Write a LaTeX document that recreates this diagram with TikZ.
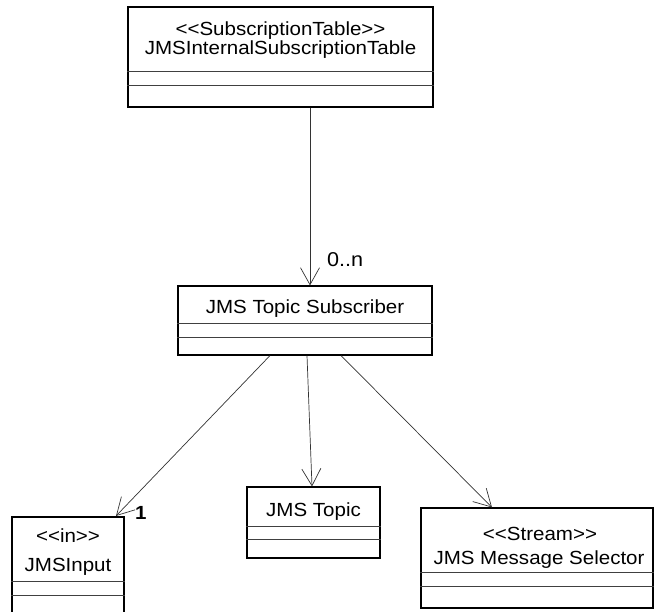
\documentclass[tikz,border=0pt]{standalone}
\usepackage{fontspec}
\setmainfont{Liberation Sans}[FakeStretch=1.08]
\usetikzlibrary{arrows.meta}
\begin{document}
\begin{tikzpicture}[x=1pt,y=-1pt,
  cls/.style={draw=black,line width=1.1pt,rectangle,inner sep=0pt},
  comp/.style={draw=black!75,line width=0.8pt},
  lbl/.style={inner sep=0pt,anchor=base,font=\fontsize{19}{21}\selectfont},
  assoc/.style={draw=black!80,line width=0.7pt,-{Straight Barb[length=17pt,width=19pt]}},
  mult/.style={inner sep=0pt,anchor=base west}]
\clip (0,0) rectangle (654,612);
% boxes
\node[cls,minimum width=305pt,minimum height=100pt] (tab) at (280.5,57) {};
\node[cls,minimum width=254pt,minimum height=69pt] (sub) at (305,320.5) {};
\node[cls,minimum width=112pt,minimum height=103pt] (inp) at (68,568.5) {};
\node[cls,minimum width=133pt,minimum height=71pt] (tpc) at (313.5,522.5) {};
\node[cls,minimum width=232pt,minimum height=100pt] (sel) at (537,558) {};
% compartments
\draw[comp] (tab.west |- 0,71) -- (tab.east |- 0,71);
\draw[comp] (tab.west |- 0,85) -- (tab.east |- 0,85);
\draw[comp] (sub.west |- 0,323) -- (sub.east |- 0,323);
\draw[comp] (sub.west |- 0,337) -- (sub.east |- 0,337);
\draw[comp] (inp.west |- 0,581) -- (inp.east |- 0,581);
\draw[comp] (inp.west |- 0,595) -- (inp.east |- 0,595);
\draw[comp] (tpc.west |- 0,526) -- (tpc.east |- 0,526);
\draw[comp] (tpc.west |- 0,539) -- (tpc.east |- 0,539);
\draw[comp] (sel.west |- 0,572) -- (sel.east |- 0,572);
\draw[comp] (sel.west |- 0,586) -- (sel.east |- 0,586);
% texts
\node[lbl] (t1) at (280.5,36) {<{}<SubscriptionTable>{}>};
\node[lbl] (t2) at (280.5,55) {JMSInternalSubscriptionTable};
\node[lbl] (s1) at (305,314) {JMS Topic Subscriber};
\node[lbl] (i1) at (68,543) {<{}<in>{}>};
\node[lbl] (i2) at (68,571) {JMSInput};
\node[lbl] (p1) at (313.5,516) {JMS Topic};
\node[lbl] (m1) at (540,540) {<{}<Stream>{}>};
\node[lbl] (m2) at (539,564) {JMS Message Selector};
% connectors
\draw[assoc] (tab.south -| 310,0) -- (sub.north -| 310,0);
\coordinate (inptip) at (116,516);
\draw[assoc] (sub.south -| 270,0) -- (inptip);
\draw[assoc] (sub.south -| 307,0) -- (tpc.north -| 312,0);
\draw[assoc] (sub.south -| 341,0) -- (sel.north -| 492,0);
% multiplicities
\node[mult,font=\fontsize{20}{22}\selectfont] (mn) at (327,267) {0..n};
\node[mult,font=\fontsize{19}{21}\selectfont\bfseries] (m1n) at (135,519) {1};
\end{tikzpicture}
\end{document}
